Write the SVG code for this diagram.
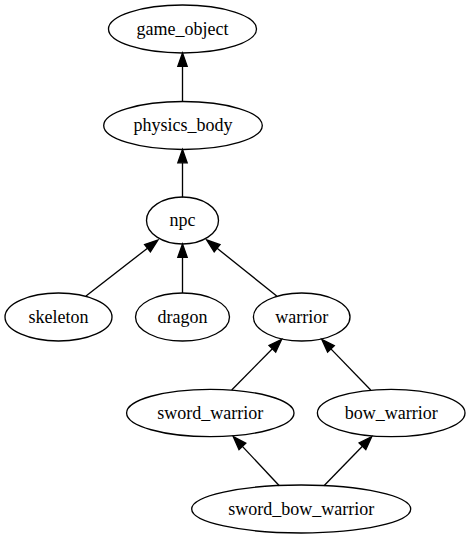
<svg xmlns="http://www.w3.org/2000/svg" width="472" height="539" viewBox="0 0 472 539">
<style>
.n ellipse{fill:none;stroke:#000;stroke-width:1.33}
.n text{font-family:'Liberation Serif','DejaVu Serif',serif;font-size:18px;text-anchor:middle;fill:#000}
.e line{stroke:#000;stroke-width:1.33}
.e polygon{fill:#000;stroke:#000;stroke-width:1.33}
</style>
<rect width="472" height="539" fill="#fff"/>
<g id="edges" class="e">
<line x1="182.5" y1="101.5" x2="182.5" y2="66.3"/><polygon points="182.5,53 187.2,66.3 177.8,66.3"/>
<line x1="182.5" y1="197.5" x2="182.5" y2="162.8"/><polygon points="182.5,149.5 187.2,162.8 177.8,162.8"/>
<line x1="182.5" y1="293" x2="182.5" y2="257.3"/><polygon points="182.5,244 187.2,257.3 177.8,257.3"/>
<line x1="86" y1="296" x2="147.5" y2="248.2"/><polygon points="158,240 150.4,251.9 144.6,244.5"/>
<line x1="276.7" y1="296" x2="217.1" y2="248.3"/><polygon points="206.7,240 220,244.65 214.2,251.95"/>
<line x1="231.7" y1="390" x2="272.4" y2="348.8"/><polygon points="281.7,339.3 275.7,352.1 269,345.5"/>
<line x1="370.7" y1="390" x2="330.9" y2="348.9"/><polygon points="321.7,339.3 334.3,345.6 327.6,352.1"/>
<line x1="279.3" y1="485.7" x2="242.4" y2="446.4"/><polygon points="233.3,436.7 245.8,443.2 239,449.6"/>
<line x1="324" y1="485.7" x2="362.4" y2="446.2"/><polygon points="371.7,436.7 365.8,449.5 359.1,443"/>
</g>
<g id="game_object" class="n"><ellipse cx="182.5" cy="29" rx="74" ry="24"/><text x="182.5" y="34.6">game_object</text></g>
<g id="physics_body" class="n"><ellipse cx="183" cy="125.5" rx="79.3" ry="24"/><text x="183" y="131.1">physics_body</text></g>
<g id="npc" class="n"><ellipse cx="182.5" cy="220.5" rx="36" ry="23.5"/><text x="182.5" y="226.1">npc</text></g>
<g id="skeleton" class="n"><ellipse cx="58.5" cy="317" rx="53.5" ry="24"/><text x="58.5" y="322.6">skeleton</text></g>
<g id="dragon" class="n"><ellipse cx="182.5" cy="317" rx="47" ry="24"/><text x="182.5" y="322.6">dragon</text></g>
<g id="warrior" class="n"><ellipse cx="301.7" cy="317" rx="48.3" ry="24"/><text x="301.7" y="322.6">warrior</text></g>
<g id="sword_warrior" class="n"><ellipse cx="210.3" cy="413" rx="83.7" ry="23.7"/><text x="210.3" y="418.6">sword_warrior</text></g>
<g id="bow_warrior" class="n"><ellipse cx="391.2" cy="413" rx="73.8" ry="23.7"/><text x="391.2" y="418.6">bow_warrior</text></g>
<g id="sword_bow_warrior" class="n"><ellipse cx="301.2" cy="509" rx="109.5" ry="24"/><text x="301.2" y="514.6">sword_bow_warrior</text></g>
</svg>
